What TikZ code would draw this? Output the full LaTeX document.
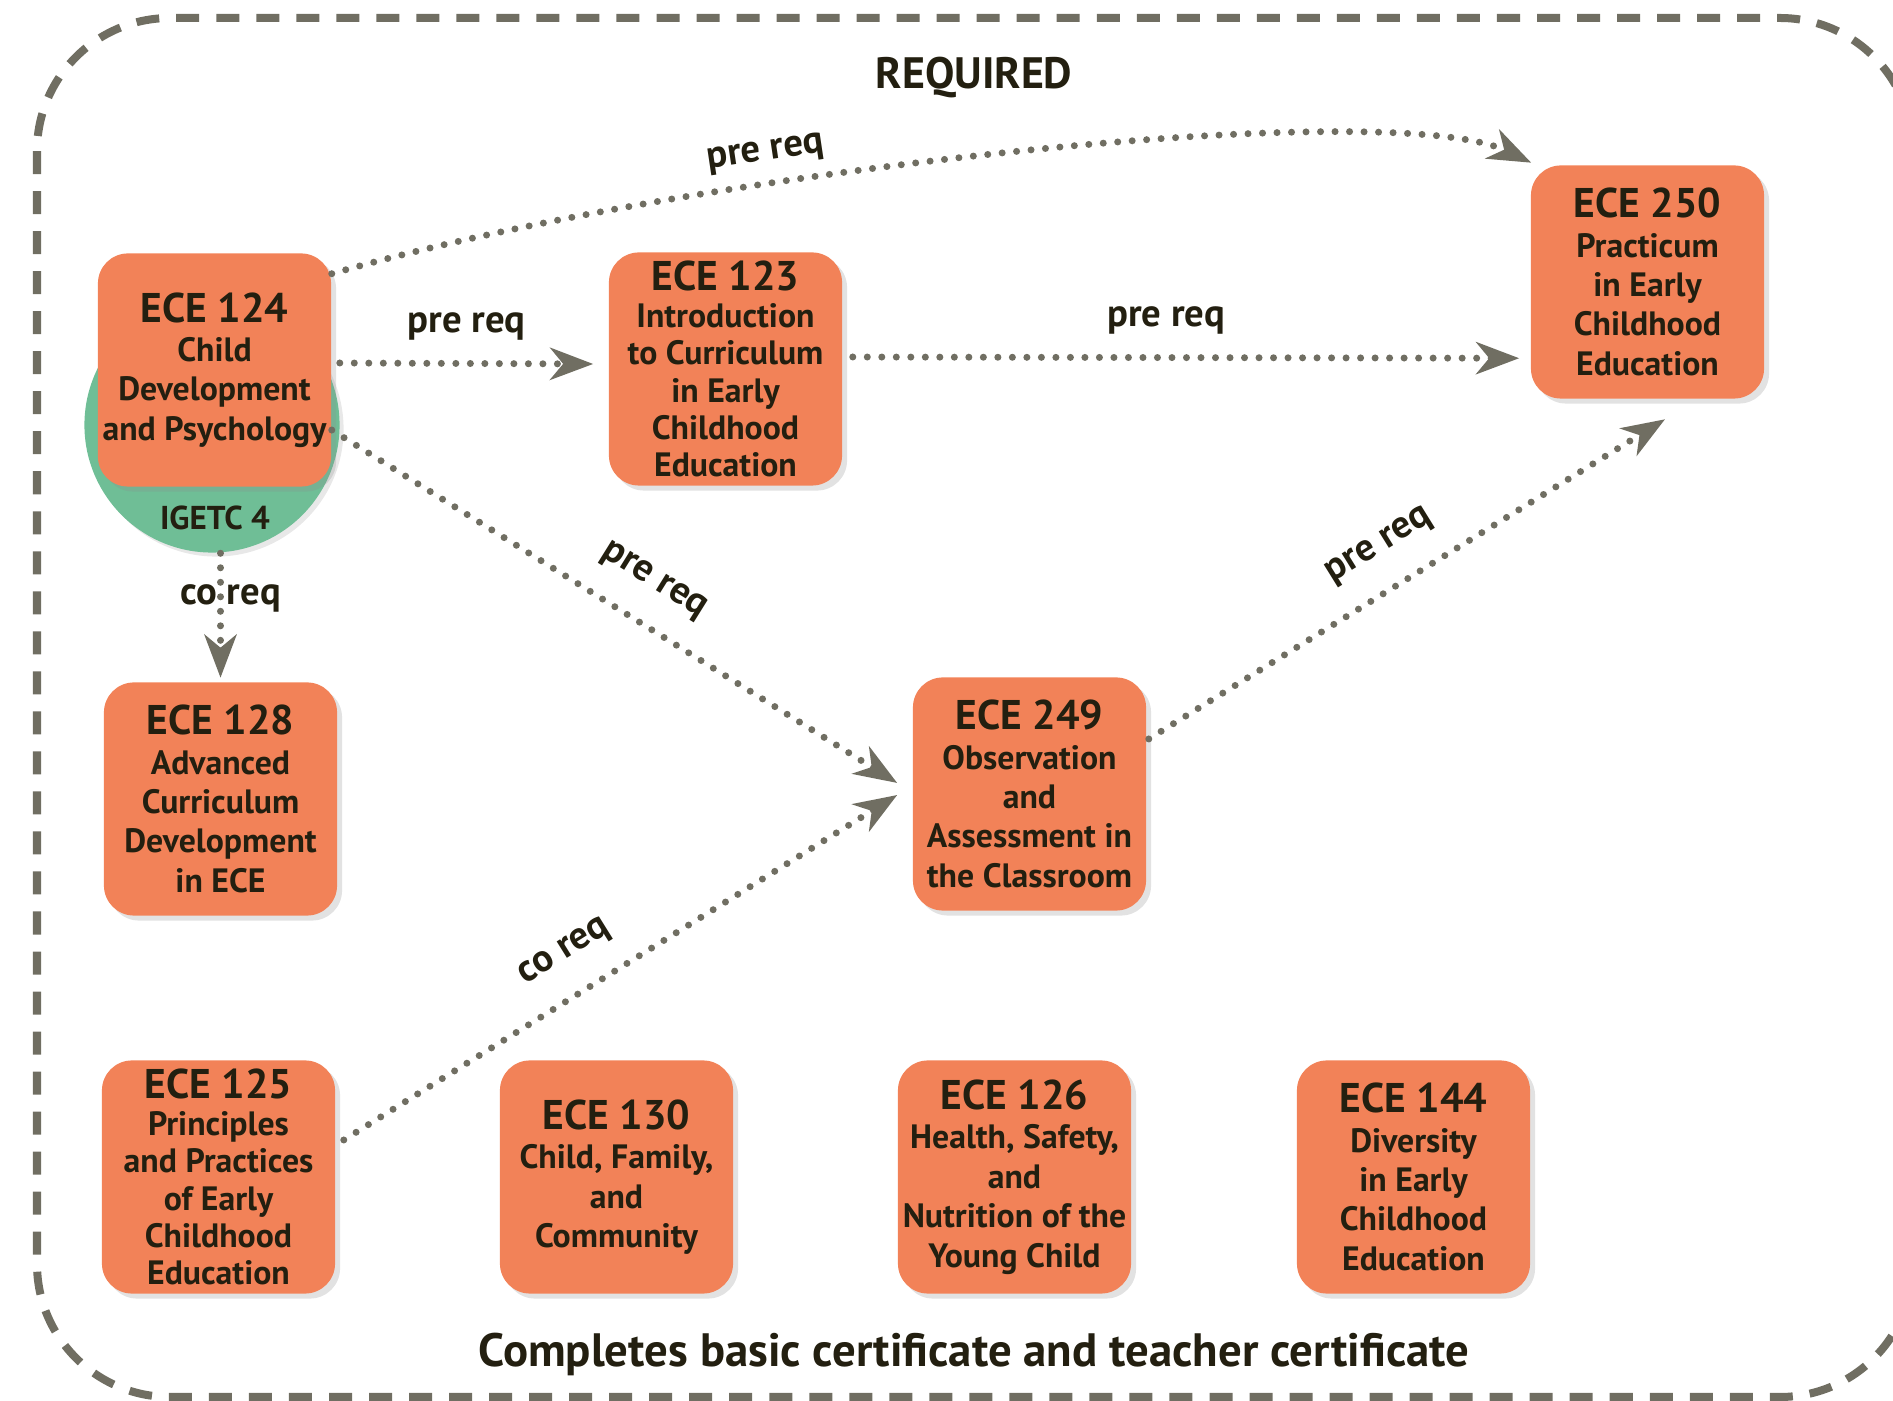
\documentclass[tikz,border=0pt]{standalone}
\usepackage{fontspec}
\setmainfont{PT Sans}
\usetikzlibrary{calc}
\usetikzlibrary{arrows.meta}
\usetikzlibrary{shadows}
\definecolor{boxorange}{HTML}{F28258}
\definecolor{igetcgreen}{HTML}{6FBE96}
\definecolor{reqgray}{HTML}{706E62}
\definecolor{inkbrown}{HTML}{231F10}
\newcommand\course[2]{{\fontsize{11.8}{13}\selectfont #1}\\#2}

\begin{document}
\begin{tikzpicture}[x=0.01cm,y=0.01cm,
  coursebox/.style={fill=boxorange, rounded corners=0.3cm, minimum width=2.33cm, minimum height=2.33cm,
    inner sep=0pt, align=center, text=inkbrown, font=\fontsize{9.6}{11.2}\selectfont\bfseries,
    drop shadow={shadow xshift=0.05cm, shadow yshift=-0.05cm, opacity=0.25, fill=black!45}},
  tightbox/.style={coursebox, font=\fontsize{9.6}{10.6}\selectfont\bfseries},
  req/.style={reqgray, line width=0.07cm, line cap=round, dash pattern=on 0pt off 0.145cm,
    -{Stealth[length=0.43cm, width=0.32cm, inset=0.13cm]}},
  reqlabel/.style={text=inkbrown, font=\fontsize{11}{13}\selectfont\bfseries, above=0.13cm, sloped}]

\useasboundingbox (0,0) rectangle (1893,-1401);

% frame
\draw[reqgray, line width=0.08cm, dash pattern=on 0.23cm off 0.17cm, rounded corners=1.33cm] (37,-18) rectangle (1913,-1397);

\node[text=inkbrown, font=\fontsize{12.5}{15}\selectfont\bfseries] (required) at (974,-78) {REQUIRED};
\node[text=inkbrown, font=\fontsize{13.3}{16}\selectfont\bfseries] (completes) at (974,-1354) {Completes basic certificate and teacher certificate};

% igetc circle behind ece 124
\node[circle, fill=igetcgreen, minimum size=2.55cm, drop shadow={shadow xshift=0.04cm, shadow yshift=-0.04cm, opacity=0.2, fill=black!45}] (igetc) at (212,-425) {};
\node[text=inkbrown, font=\fontsize{9.4}{11}\selectfont\bfseries] (igetctext) at (215,-518) {IGETC 4};

% top row
\node[coursebox] (e124) at (214.5,-370) {\course{ECE 124}{Child\\Development\\and Psychology}};
\node[tightbox] (e123) at (725.5,-369) {\course{ECE 123}{Introduction\\to Curriculum\\in Early\\Childhood\\Education}};
\node[coursebox] (e250) at (1647.5,-282) {\course{ECE 250}{Practicum\\in Early\\Childhood\\Education}};

% middle row
\node[coursebox] (e128) at (220.5,-799) {\course{ECE 128}{Advanced\\Curriculum\\Development\\in ECE}};
\node[coursebox] (e249) at (1029.5,-794) {\course{ECE 249}{Observation\\and\\Assessment in\\the Classroom}};

% bottom row
\node[tightbox] (e125) at (218.5,-1177) {\course{ECE 125}{Principles\\and Practices\\of Early\\Childhood\\Education}};
\node[coursebox] (e130) at (616.5,-1177) {\course{ECE 130}{Child, Family,\\and\\Community}};
\node[coursebox] (e126) at (1014.5,-1177) {\course{ECE 126}{Health, Safety,\\and\\Nutrition of the\\Young Child}};
\node[coursebox] (e144) at (1413.5,-1177) {\course{ECE 144}{Diversity\\in Early\\Childhood\\Education}};

% requisites
\draw[req] ([yshift=-0.21cm]e124.north east) .. controls (700,-168) and (1390,-95) .. ([shift={(0.01cm,0.02cm)}]e250.north west) node[reqlabel, pos=0.33, yshift=-0.12cm] {pre req};
\draw[req] ([shift={(0.08cm,0.07cm)}]e124.east) -- ([shift={(-0.15cm,0.05cm)}]e123.west) node[reqlabel, midway, yshift=-0.05cm] {pre req};
\draw[req] ([shift={(0.1cm,0.12cm)}]e123.east) -- ([shift={(-0.11cm,0.41cm)}]e250.south west) node[reqlabel, pos=0.47, yshift=-0.05cm] {pre req};
\draw[req] ([yshift=-0.6cm]e124.east) -- ([shift={(-0.15cm,0.11cm)}]e249.west) node[reqlabel, pos=0.53] {pre req};
\draw[req] (igetc.south -| e128.north) -- ([yshift=0.04cm]e128.north) node[text=inkbrown, font=\fontsize{11}{13}\selectfont\bfseries, pos=0.36, xshift=0.1cm] {co req};
\draw[req] ([shift={(0.08cm,0.37cm)}]e125.east) -- ([shift={(-0.15cm,-0.01cm)}]e249.west) node[reqlabel, pos=0.44] {co req};
\draw[req] ([shift={(0.02cm,0.55cm)}]e249.east) -- ([shift={(0.175cm,-0.2cm)}]e250.south) node[reqlabel, pos=0.49] {pre req};

\end{tikzpicture}
\end{document}
